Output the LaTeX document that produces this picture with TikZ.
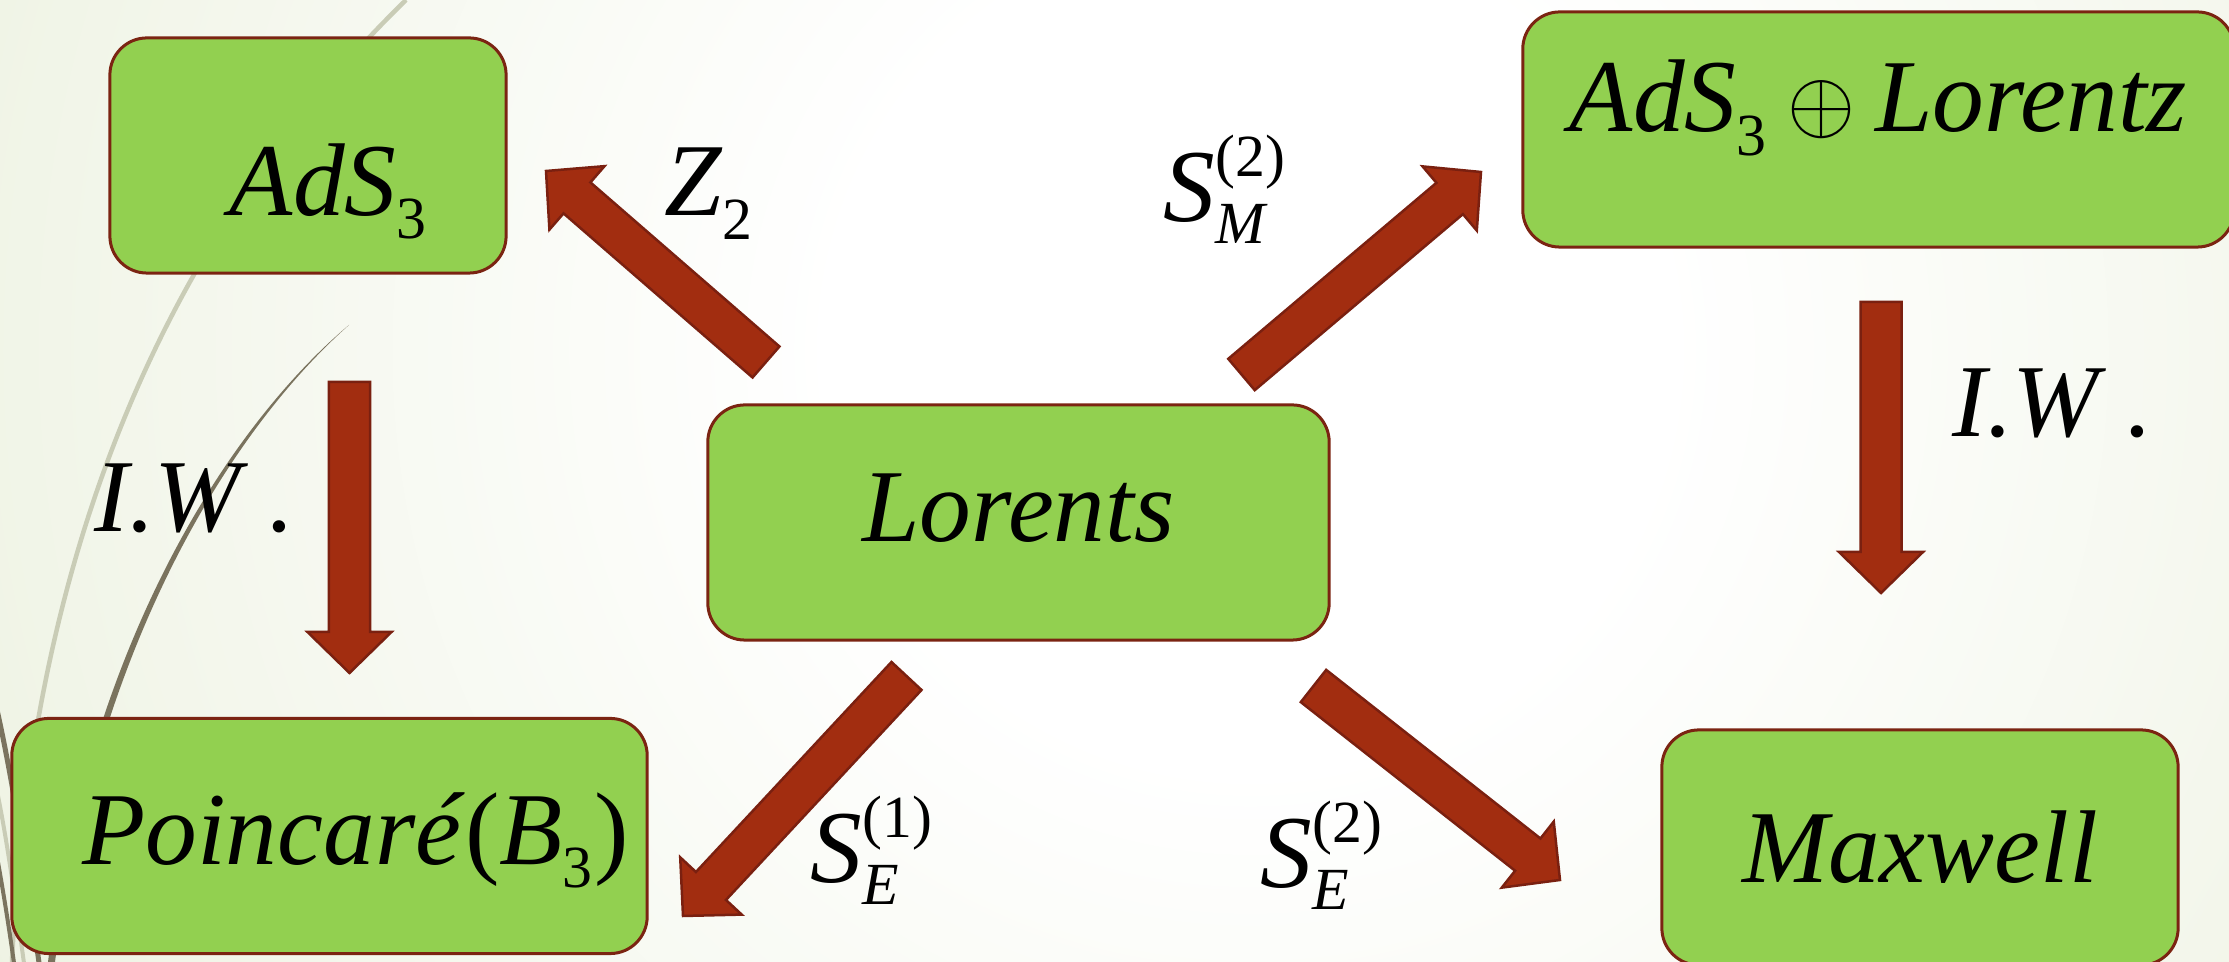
\documentclass[tikz,border=0pt]{standalone}
\usepackage{amsmath}
\usepackage{fontspec}
\setmainfont{Liberation Serif}
\usetikzlibrary{calc}
\DeclareMathSizes{29.4}{29.4}{17}{12}
\definecolor{boxfill}{HTML}{92D050}
\definecolor{boxborder}{HTML}{7B2412}
\definecolor{arrowfill}{HTML}{A22D10}
\definecolor{arrowborder}{HTML}{7A2010}
\definecolor{bgedge}{HTML}{E1E9CD}
\definecolor{swooshlight}{HTML}{C9CCB6}
\definecolor{swooshdark}{HTML}{7A735E}
\pgfdeclareradialshading{bgglow}{\pgfpoint{0bp}{0bp}}{color(0bp)=(white); color(8bp)=(white); color(42bp)=(bgedge); color(50bp)=(bgedge)}
\tikzset{
    groupbox/.style={rectangle, rounded corners=0.37cm, fill=boxfill, draw=boxborder, line width=0.03cm, minimum height=2.35cm, inner sep=0pt, font=\fontsize{29.4}{35}\selectfont, text depth=0pt},
    maplabel/.style={inner sep=0pt, anchor=base west, font=\fontsize{29.4}{35}\selectfont},
    blockarrow/.style={fill=arrowfill, draw=arrowborder, line width=0.025cm, line join=miter},
}
\newcommand{\symit}[1]{\text{\itshape #1}}
\newcommand{\symup}[1]{\text{\upshape #1}}
\newcommand{\symdn}[1]{\text{\raisebox{-0.1cm}{\upshape #1}}}
\newcommand{\shaftw}{0.205cm}
\newcommand{\headw}{0.42cm}
\newcommand{\headl}{0.41cm}
% fat arrow from tail #1 to tip #2
\newcommand{\maparrow}[2]{%
    \draw[blockarrow] ($(#1)!\shaftw!90:(#2)$) -- ($($(#2)!\headl!(#1)$)!\shaftw!90:(#2)$)
        -- ($($(#2)!\headl!(#1)$)!\headw!90:(#2)$) -- (#2)
        -- ($($(#2)!\headl!(#1)$)!\headw!-90:(#2)$) -- ($($(#2)!\headl!(#1)$)!\shaftw!-90:(#2)$)
        -- ($(#1)!\shaftw!-90:(#2)$) -- cycle;}
\begin{document}
\begin{tikzpicture}[x=0.01cm, y=-0.01cm]
\useasboundingbox (0,0) rectangle (2229,962);
\clip (0,0) rectangle (2229,962);
% background
\shade[shading=bgglow] (-50,-950) rectangle (2550,1650);
\draw[swooshlight, line width=0.045cm] (406,0) .. controls (160,240) and (30,560) .. (12,962);
\fill[swooshdark] (349,325) .. controls (230,425) and (90,640) .. (48,962) -- (55,962) .. controls (97,640) and (234,427) .. (349,325) -- cycle;
\draw[swooshdark, line width=0.05cm] (-10,680) .. controls (10,760) and (25,860) .. (40,970);
\draw[swooshlight, line width=0.04cm] (-10,760) .. controls (5,820) and (15,900) .. (25,970);
\draw[swooshdark, line width=0.04cm] (-10,820) .. controls (0,870) and (8,920) .. (15,970);
% groups
\node[groupbox, minimum width=3.96cm, text height=1.19cm] (ads) at (308,155.5) {\hspace*{0.42cm}$\symit{AdS}_{\symdn{3}}$};
\node[groupbox, minimum width=6.21cm, text height=0.39cm] (lorents) at (1018.5,522.5) {\textit{Lorents}};
\node[groupbox, minimum width=7.11cm, text height=0.05cm] (adslor) at (1878.5,129.5) {$\symit{AdS}_{\symdn{3}}\oplus\symit{Lorentz}$};
\node[groupbox, minimum width=6.35cm, text height=0.56cm] (poinc) at (329.5,836) {\hspace*{0.52cm}\textit{Poincaré}(\textit{B}$_{\symdn{3}}$)};
\node[groupbox, minimum width=5.16cm, text height=0.69cm] (maxw) at (1920,847.5) {\textit{Maxwell}};
% arrow ends
\coordinate (z2tail) at (766,362);
\coordinate (z2tip) at (546,171);
\coordinate (smtail) at (1241.5,374.5);
\coordinate (smtip) at (1481,172);
\coordinate (se1tail) at (906.5,676);
\coordinate (se1tip) at (683,916);
\coordinate (se2tail) at (1313.5,686);
\coordinate (se2tip) at (1560,880);
\coordinate (iwltail) at (349.5,382);
\coordinate (iwltip) at (349.5,673);
\coordinate (iwrtail) at (1881,302);
\coordinate (iwrtip) at (1881,593);
\maparrow{z2tail}{z2tip}
\maparrow{smtail}{smtip}
\maparrow{se1tail}{se1tip}
\maparrow{se2tail}{se2tip}
\maparrow{iwltail}{iwltip}
\maparrow{iwrtail}{iwrtip}
% labels
\node[maplabel] (z2lab) at (664,216) {$\symit{Z}_{\symdn{2}}$};
\node[maplabel] (smlab) at (1163,222) {$\symit{S}_{\symit{M}}^{\symup{(2)}}$};
\node[maplabel] (se1lab) at (810,883) {$\symit{S}_{\symit{E}}^{\symup{(1)}}$};
\node[maplabel] (se2lab) at (1260,888) {$\symit{S}_{\symit{E}}^{\symup{(2)}}$};
\node[maplabel] (iwllab) at (94,532) {\textit{I.W}\,.};
\node[maplabel] (iwrlab) at (1952,437) {\textit{I.W}\,.};
\end{tikzpicture}
\end{document}
